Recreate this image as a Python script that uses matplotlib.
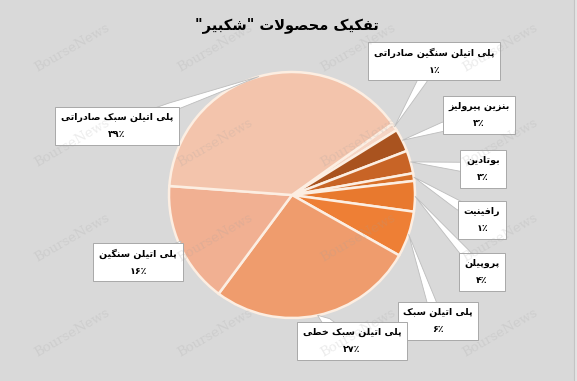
import unicodedata

import matplotlib
matplotlib.use("Agg")
import matplotlib.pyplot as plt
import numpy as np
from matplotlib.patches import Polygon

W, H = 577, 381

title = 'تفکیک محصولات "شکبیر"'
categories = [
    "پلی اتیلن سنگین صادراتی",
    "بنزین پیرولیز",
    "بوتادین",
    "رافینیت",
    "پروپیلن",
    "پلی اتیلن سبک",
    "پلی اتیلن سبک خطی",
    "پلی اتیلن سنگین",
    "پلی اتیلن سبک صادراتی",
]
shares = [1, 3, 3, 1, 4, 6, 27, 16, 39]
colors = ["#F6D5C4", "#A9531F", "#C86426", "#D7702A", "#E8792E",
          "#EE7F35", "#EF9C6D", "#F1B092", "#F3C4AC"]
# label box centres in screen pixels (x, y from top)
label_pos = [(434, 61), (479, 115), (483, 169), (482, 220), (482, 272),
             (438, 321), (352, 341), (138, 262), (117, 126)]

RIGHT_JOIN = set("اآأإدذرزژوؤة")


def is_arabic(c):
    return "\u0600" <= c <= "\u06FF"


def form(c, kind):
    try:
        return unicodedata.lookup(unicodedata.name(c) + " " + kind + " FORM")
    except KeyError:
        return c


def rtl(text):
    # tiny reshaper: pick contextual forms, then reverse for display
    out = []
    i = 0
    n = len(text)
    while i < n:
        c = text[i]
        if not is_arabic(c):
            out.append(c)
            i += 1
            continue
        prev = text[i - 1] if i > 0 else ""
        prev_conn = bool(prev) and is_arabic(prev) and prev not in RIGHT_JOIN
        if c == "ل" and i + 1 < n and text[i + 1] == "ا":
            out.append("\uFEFC" if prev_conn else "\uFEFB")
            i += 2
            continue
        nxt = text[i + 1] if i + 1 < n else ""
        next_conn = bool(nxt) and is_arabic(nxt)
        if c in RIGHT_JOIN:
            out.append(form(c, "FINAL" if prev_conn else "ISOLATED"))
        elif prev_conn and next_conn:
            out.append(form(c, "MEDIAL"))
        elif prev_conn:
            out.append(form(c, "FINAL"))
        elif next_conn:
            out.append(form(c, "INITIAL"))
        else:
            out.append(form(c, "ISOLATED"))
        i += 1
    return "".join(out)[::-1]


def fa_percent(v):
    digits = str(v).translate(str.maketrans("0123456789", "۰۱۲۳۴۵۶۷۸۹"))
    return digits + "٪"


plt.rcParams["font.family"] = ["DejaVu Sans"]
fig = plt.figure(figsize=(W / 100, H / 100), dpi=100, facecolor="#D9D9D9")
ax = fig.add_axes([0, 0, 1, 1])
ax.set_facecolor("#D9D9D9")

cx, cy, r = 292, H - 195, 123
wedges, _ = ax.pie(shares, colors=colors, startangle=35.4, counterclock=False,
                   center=(cx, cy), radius=r,
                   wedgeprops=dict(edgecolor="#FCEEE2", linewidth=1.8))
for w in wedges:
    w.set_zorder(2)

ax.set_xlim(0, W)
ax.set_ylim(0, H)
ax.set_aspect("equal")
ax.axis("off")

# spreadsheet edge on the right
ax.axvline(574, color="#C4C4C4", lw=0.8)
ax.axvspan(574, W, color="#E4E4E4", lw=0)

# watermark
for wx in [72, 215, 358, 500]:
    for wy in [48, 143, 238, 333]:
        ax.text(wx, H - wy, "BourseNews", family="DejaVu Serif", fontsize=9.5,
                color="#A0A0A0", alpha=0.2, rotation=30, ha="center",
                va="center", zorder=6)

ax.text(287, H - 25, rtl(title), fontsize=10.5, fontweight="bold",
        ha="center", va="center", zorder=5)

texts = []
for name, val, (px, py) in zip(categories, shares, label_pos):
    t = ax.text(px, H - py, rtl(name) + "\n" + fa_percent(val), fontsize=6.8,
                fontweight="bold", ha="center", va="center", linespacing=2.1,
                zorder=5,
                bbox=dict(boxstyle="square,pad=0.6", fc="white",
                          ec="#A8A8A8", lw=0.7))
    texts.append(t)

fig.canvas.draw()
inv = ax.transData.inverted()
for w, t in zip(wedges, texts):
    mid = np.deg2rad((w.theta1 + w.theta2) / 2)
    tip = np.array([cx + r * np.cos(mid), cy + r * np.sin(mid)])
    ext = t.get_bbox_patch().get_window_extent()
    (x0, y0), (x1, y1) = inv.transform([[ext.x0, ext.y0], [ext.x1, ext.y1]])
    c = np.array([(x0 + x1) / 2, (y0 + y1) / 2])
    d = tip - c
    s = min((x1 - x0) / 2 / max(abs(d[0]), 1e-6), (y1 - y0) / 2 / max(abs(d[1]), 1e-6))
    edge = c + d * s
    u = d / np.linalg.norm(d)
    perp = np.array([-u[1], u[0]]) * 4.5
    poly = Polygon([c - perp, edge - perp, tip, edge + perp, c + perp],
                   closed=True, fc="white", ec="#BDBDBD", lw=0.6, zorder=4)
    ax.add_patch(poly)

fig.savefig("out.png", dpi=100, facecolor=fig.get_facecolor())
